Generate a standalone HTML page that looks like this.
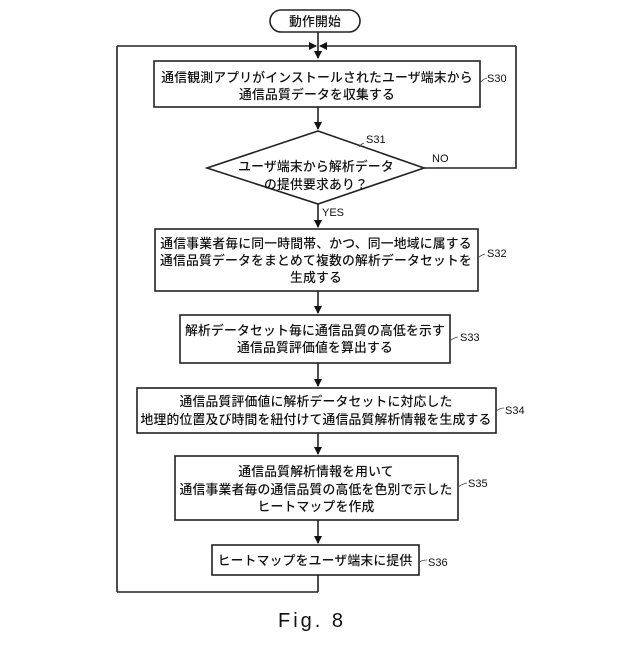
<!DOCTYPE html>
<html><head><meta charset="utf-8"><style>
html,body{margin:0;padding:0;background:#fff}
svg text{font-family:"Liberation Sans","Noto Sans CJK JP",sans-serif;fill:#111}
.t{font-size:12.8px;text-anchor:middle;font-weight:500;letter-spacing:0.2px}
.l{font-size:11px;font-family:"Liberation Sans Narrow","Liberation Sans",sans-serif}
</style></head><body>
<svg width="640" height="640" viewBox="0 0 640 640" xmlns="http://www.w3.org/2000/svg">
<defs><marker id="a" markerWidth="8" markerHeight="8" refX="7" refY="4" orient="auto" markerUnits="userSpaceOnUse"><path d="M0,0 L8,4 L0,8 z" fill="#111"/></marker></defs>
<g stroke="#222" stroke-width="1.6" fill="none">
<rect x="270" y="10" width="90" height="22" rx="11"/>
<line x1="318" y1="32" x2="318" y2="58" marker-end="url(#a)"/>
<line x1="117" y1="46" x2="316" y2="46" marker-end="url(#a)"/>
<line x1="516" y1="46" x2="320" y2="46" marker-end="url(#a)"/>
<line x1="117" y1="46" x2="117" y2="592"/>
<line x1="117" y1="592" x2="318" y2="592"/>
<line x1="318" y1="575" x2="318" y2="592"/>
<polyline points="424,168 516,168 516,46"/>
<rect x="154" y="61" width="326" height="46"/>
<line x1="318" y1="107" x2="318" y2="129" marker-end="url(#a)"/>
<polygon points="318,131 424,168 318,204 207,168"/>
<line x1="318" y1="204" x2="318" y2="227" marker-end="url(#a)"/>
<rect x="155" y="229" width="323" height="62"/>
<line x1="318" y1="291" x2="318" y2="313" marker-end="url(#a)"/>
<rect x="180" y="315" width="270" height="48"/>
<line x1="318" y1="363" x2="318" y2="386" marker-end="url(#a)"/>
<rect x="137" y="388" width="359" height="45"/>
<line x1="318" y1="433" x2="318" y2="454" marker-end="url(#a)"/>
<rect x="175" y="456" width="283" height="64"/>
<line x1="318" y1="520" x2="318" y2="543" marker-end="url(#a)"/>
<rect x="212" y="545" width="207" height="30"/>
</g>
<g stroke="#444" stroke-width="0.8" fill="none">
<path d="M480,83 q3,-4 7,-5"/><path d="M364,143 q-3,1 -5,4"/><path d="M478,258 q3,-3 7,-4"/>
<path d="M450,341 q3,-3 8,-4"/><path d="M496,411 q4,-3 8,-3"/><path d="M458,487 q4,-3 9,-4"/><path d="M419,562 q4,-2 8,-2"/>
</g>
<text class="t" x="315" y="26">動作開始</text>
<text class="t" x="317" y="82">通信観測アプリがインストールされたユーザ端末から</text>
<text class="t" x="317" y="99">通信品質データを収集する</text>
<text class="t" x="316" y="171">ユーザ端末から解析データ</text>
<text class="t" x="316" y="189">の提供要求あり？</text>
<text class="l" x="322" y="216">YES</text>
<text class="l" x="432" y="162">NO</text>
<text class="t" x="316" y="248">通信事業者毎に同一時間帯、かつ、同一地域に属する</text>
<text class="t" x="316" y="265">通信品質データをまとめて複数の解析データセットを</text>
<text class="t" x="316" y="282">生成する</text>
<text class="t" x="315" y="335">解析データセット毎に通信品質の高低を示す</text>
<text class="t" x="315" y="352">通信品質評価値を算出する</text>
<text class="t" x="316" y="406">通信品質評価値に解析データセットに対応した</text>
<text class="t" x="316" y="424">地理的位置及び時間を紐付けて通信品質解析情報を生成する</text>
<text class="t" x="316" y="476">通信品質解析情報を用いて</text>
<text class="t" x="316" y="494">通信事業者毎の通信品質の高低を色別で示した</text>
<text class="t" x="316" y="511">ヒートマップを作成</text>
<text class="t" x="315" y="565">ヒートマップをユーザ端末に提供</text>
<text class="l" x="487" y="82">S30</text>
<text class="l" x="366" y="143">S31</text>
<text class="l" x="487" y="257">S32</text>
<text class="l" x="460" y="341">S33</text>
<text class="l" x="505" y="414">S34</text>
<text class="l" x="468" y="487">S35</text>
<text class="l" x="428" y="566">S36</text>
<text x="278" y="627" style="font-size:20px;font-family:'Liberation Sans Narrow','Liberation Sans',sans-serif;letter-spacing:3px">Fig. 8</text>
</svg>
</body></html>
